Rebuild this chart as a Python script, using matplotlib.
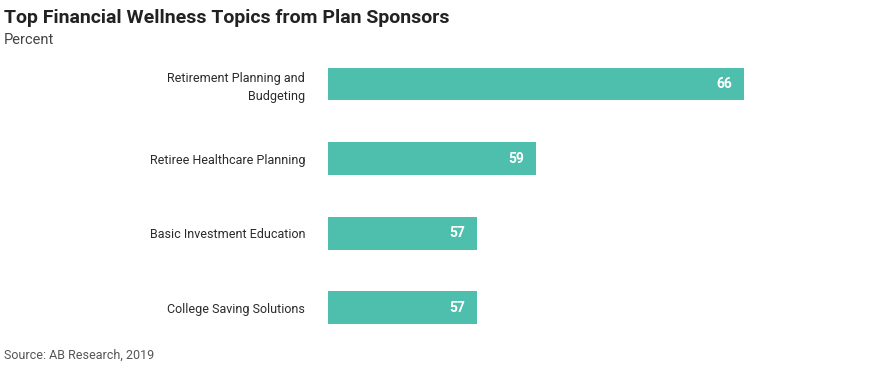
import matplotlib
matplotlib.use("Agg")
import matplotlib.pyplot as plt

# Data
topics = ["Retirement Planning and\nBudgeting", "Retiree Healthcare Planning",
          "Basic Investment Education", "College Saving Solutions"]
percent = [66, 59, 57, 57]
axis_start = 52

bar_color = "#4FBFAD"

fig = plt.figure(figsize=(8.8, 3.7), dpi=100)
ax = fig.add_axes([0.3727, 0.067, 0.608, 0.807])

ypos = range(len(topics))
bars = ax.barh(ypos, [p - axis_start for p in percent], left=axis_start,
               height=0.44, color=bar_color)

# value labels inside the bar end
for bar, val in zip(bars, percent):
    ax.text(bar.get_x() + bar.get_width() - 0.4, bar.get_y() + bar.get_height() / 2,
            f"{val}", ha="right", va="center", color="white",
            fontsize=10, fontweight="bold", family="Roboto")

ax.set_xlim(axis_start, 70)
ax.set_ylim(3.5, -0.5)
ax.set_yticks(list(ypos))
ax.set_yticklabels(topics, fontsize=9, color="#2a2a2a", family="Roboto",
                   linespacing=1.5)
ax.tick_params(axis="y", length=0, pad=16.5)
ax.set_xticks([])
for s in ax.spines.values():
    s.set_visible(False)

fig.text(0.004, 0.975, "Top Financial Wellness Topics from Plan Sponsors",
         fontsize=14, fontweight="bold", color="#222222", va="top",
         family="Roboto")
fig.text(0.004, 0.912, "Percent", fontsize=10.5, color="#444444", va="top",
         family="Roboto")
fig.text(0.004, 0.022, "Source: AB Research, 2019", fontsize=9,
         color="#555555", va="bottom", family="Roboto")

fig.savefig("out.png", dpi=100)
